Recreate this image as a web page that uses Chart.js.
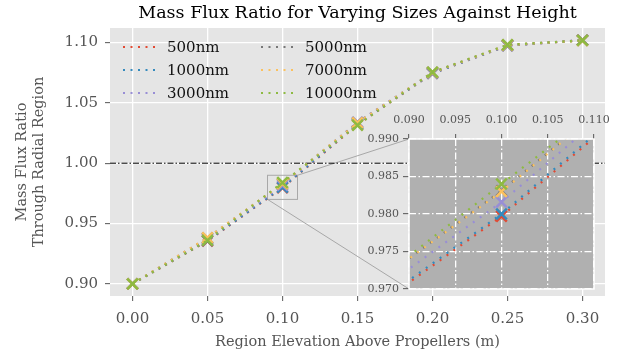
<!DOCTYPE html>
<html>
<head>
<meta charset="utf-8">
<script src="https://cdn.jsdelivr.net/npm/chart.js@4.4.1/dist/chart.umd.min.js"></script>
<style>
  html, body { margin: 0; padding: 0; background: #fff; }
  #wrap { position: relative; width: 622px; height: 359px; overflow: hidden; }
  #main { position: absolute; left: 0; top: 0; }
  #inset { position: absolute; left: 360px; top: 100px; }
</style>
</head>
<body>
<div id="wrap">
  <canvas id="main" width="622" height="359"></canvas>
  <canvas id="inset" width="262" height="212"></canvas>
</div>
<script>
var FONT = "'DejaVu Serif', 'Liberation Serif', serif";
var INSET_LEFT = 360, INSET_TOP = 100;

// data
var heights = [0, 0.05, 0.10, 0.15, 0.20, 0.25, 0.30];
var sizeLabels = ['500nm', '1000nm', '3000nm', '5000nm', '7000nm', '10000nm'];
var flux500   = [0.900, 0.9355, 0.9797, 1.0320, 1.0745, 1.0975, 1.1020];
var flux1000  = [0.900, 0.9358, 0.9800, 1.0325, 1.0745, 1.0975, 1.1020];
var flux3000  = [0.900, 0.9370, 0.9816, 1.0340, 1.0750, 1.0978, 1.1020];
var flux5000  = [0.900, 0.9380, 0.9831, 1.0335, 1.0752, 1.0980, 1.1018];
var flux7000  = [0.900, 0.9382, 0.9830, 1.0335, 1.0752, 1.0980, 1.1017];
var flux10000 = [0.900, 0.9360, 0.9840, 1.0315, 1.0755, 1.0982, 1.1018];
var seriesValues = [flux500, flux1000, flux3000, flux5000, flux7000, flux10000];
var colors = ['#E24A33', '#348ABD', '#988ED5', '#777777', '#FBC15E', '#8EBA42'];

var mainXTicks = [0.00, 0.05, 0.10, 0.15, 0.20, 0.25, 0.30];
var mainYTicks = [0.90, 0.95, 1.00, 1.05, 1.10];
var mainXRange = [-0.015, 0.315];
var mainYRange = [0.8899, 1.1121];
var insetXTicks = [0.090, 0.095, 0.100, 0.105, 0.110];
var insetYTicks = [0.970, 0.975, 0.980, 0.985, 0.990];
var refLevel = 1.0;

function makeSets(dash) {
  return seriesValues.map(function(vals, i) {
    return {
      label: sizeLabels[i],
      data: heights.map(function(h, j) { return { x: h, y: vals[j] }; }),
      borderColor: colors[i], backgroundColor: colors[i],
      borderWidth: 2.2, borderDash: dash, tension: 0, fill: false,
      pointStyle: 'crossRot', pointRadius: 7.5, pointHoverRadius: 7.5, pointBorderWidth: 2.5,
      order: seriesValues.length - i
    };
  });
}

function setTicks(list) {
  return function(scale) { scale.ticks = list.map(function(v) { return { value: v }; }); };
}

var bgPlugin = {
  id: 'bg',
  beforeDraw: function(chart, args, opts) {
    var a = chart.chartArea, ctx = chart.ctx;
    ctx.save();
    ctx.fillStyle = opts.color;
    ctx.fillRect(a.left, a.top, a.right - a.left, a.bottom - a.top);
    ctx.restore();
  }
};

// inset first so the main chart can read its box for the connectors
var insetChart = new Chart(document.getElementById('inset'), {
  type: 'line',
  data: { datasets: makeSets([2, 6.5]) },
  options: {
    responsive: false, animation: false, devicePixelRatio: 1, events: [],
    layout: { padding: { left: 0, top: 0, right: 28, bottom: 23 } },
    plugins: {
      legend: { display: false }, tooltip: { enabled: false }, title: { display: false },
      bg: { color: '#B0B0B0' },
      frame: { color: '#ffffff' }
    },
    scales: {
      x: {
        type: 'linear', position: 'top', min: insetXTicks[0], max: insetXTicks[4],
        afterBuildTicks: setTicks(insetXTicks),
        afterFit: function(s) { s.height = 39; },
        ticks: { callback: function(v) { return v.toFixed(3); }, color: '#555', font: { family: FONT, size: 11 }, padding: 7, maxRotation: 0, autoSkip: false },
        grid: { color: '#ffffff', lineWidth: 1.3, tickColor: '#555', tickLength: 5, tickWidth: 1 },
        border: { display: false, dash: [7, 2.5, 1.5, 2.5] }
      },
      y: {
        type: 'linear', min: insetYTicks[0], max: insetYTicks[4],
        afterBuildTicks: setTicks(insetYTicks),
        afterFit: function(s) { s.width = 49; },
        ticks: { callback: function(v) { return v.toFixed(3); }, color: '#555', font: { family: FONT, size: 11 }, padding: 4, autoSkip: false },
        grid: { color: '#ffffff', lineWidth: 1.3, tickColor: '#555', tickLength: 6, tickWidth: 1 },
        border: { display: false, dash: [7, 2.5, 1.5, 2.5] }
      }
    }
  },
  plugins: [bgPlugin, {
    id: 'frame',
    afterDraw: function(chart, args, opts) {
      var a = chart.chartArea, ctx = chart.ctx;
      ctx.save();
      ctx.strokeStyle = opts.color; ctx.lineWidth = 1.5;
      ctx.strokeRect(a.left, a.top, a.right - a.left, a.bottom - a.top);
      ctx.restore();
    }
  }]
});

var mainSets = makeSets([2, 5.5]);
mainSets.push({
  label: 'ref', data: [{ x: mainXRange[0], y: refLevel }, { x: mainXRange[1], y: refLevel }],
  borderColor: '#000', borderWidth: 1, borderDash: [6, 2, 1.5, 2], pointRadius: 0, order: 20
});

var overlayPlugin = {
  id: 'overlay',
  beforeDatasetsDraw: function(chart) {
    var ctx = chart.ctx, xs = chart.scales.x, ys = chart.scales.y;
    var x0 = xs.getPixelForValue(insetXTicks[0]), x1 = xs.getPixelForValue(insetXTicks[4]);
    var y0 = ys.getPixelForValue(insetYTicks[0]), y1 = ys.getPixelForValue(insetYTicks[4]);
    var ia = insetChart.chartArea;
    ctx.save();
    ctx.strokeStyle = '#a8a8a8'; ctx.lineWidth = 1;
    ctx.strokeRect(x0, y1, x1 - x0, y0 - y1);
    ctx.beginPath();
    ctx.moveTo(x1, y1); ctx.lineTo(INSET_LEFT + ia.left, INSET_TOP + ia.top);
    ctx.moveTo(x0, y0); ctx.lineTo(INSET_LEFT + ia.left, INSET_TOP + ia.bottom);
    ctx.stroke();
    ctx.restore();
  },
  afterDatasetsDraw: function(chart) {
    var ctx = chart.ctx, a = chart.chartArea;
    ctx.save();
    // legend, two columns of three
    var cols = [a.left + 13, a.left + 151], rows = [a.top + 19, a.top + 42, a.top + 65];
    ctx.font = '15px ' + FONT; ctx.textBaseline = 'middle'; ctx.textAlign = 'left';
    sizeLabels.forEach(function(lbl, i) {
      var cx = cols[Math.floor(i / 3)], cy = rows[i % 3];
      ctx.strokeStyle = colors[i]; ctx.lineWidth = 2.2; ctx.setLineDash([2, 5.5]);
      ctx.beginPath(); ctx.moveTo(cx, cy); ctx.lineTo(cx + 32, cy); ctx.stroke();
      ctx.setLineDash([]);
      ctx.fillStyle = '#111';
      ctx.fillText(lbl, cx + 44, cy + 1);
    });
    // title
    ctx.font = '17.5px ' + FONT; ctx.textAlign = 'center'; ctx.fillStyle = '#000';
    ctx.fillText('Mass Flux Ratio for Varying Sizes Against Height', (a.left + a.right) / 2, 13);
    ctx.restore();
  }
};

new Chart(document.getElementById('main'), {
  type: 'line',
  data: { datasets: mainSets },
  options: {
    responsive: false, animation: false, devicePixelRatio: 1, events: [],
    layout: { padding: { left: 0, top: 28, right: 17, bottom: 0 } },
    plugins: { legend: { display: false }, tooltip: { enabled: false }, title: { display: false }, bg: { color: '#E5E5E5' } },
    scales: {
      x: {
        type: 'linear', min: mainXRange[0], max: mainXRange[1],
        afterBuildTicks: setTicks(mainXTicks),
        afterFit: function(s) { s.height = 63; },
        ticks: { callback: function(v) { return v.toFixed(2); }, color: '#555', font: { family: FONT, size: 15 }, padding: 9, maxRotation: 0, autoSkip: false },
        grid: { color: '#ffffff', lineWidth: 1.3, tickColor: '#555', tickLength: 5, tickWidth: 1 },
        border: { display: false },
        title: { display: true, text: 'Region Elevation Above Propellers (m)', color: '#555', font: { family: FONT, size: 14.5 }, padding: { top: 0, bottom: 8 } }
      },
      y: {
        type: 'linear', min: mainYRange[0], max: mainYRange[1],
        afterBuildTicks: setTicks(mainYTicks),
        afterFit: function(s) { s.width = 110; },
        ticks: { callback: function(v) { return v.toFixed(2); }, color: '#555', font: { family: FONT, size: 15 }, padding: 7, autoSkip: false },
        grid: { color: '#ffffff', lineWidth: 1.3, tickColor: '#555', tickLength: 5, tickWidth: 1 },
        border: { display: false },
        title: { display: true, text: ['Mass Flux Ratio', 'Through Radial Region'], color: '#555', font: { family: FONT, size: 14.5, lineHeight: 1.18 }, padding: { top: 14, bottom: 0 } }
      }
    }
  },
  plugins: [bgPlugin, overlayPlugin]
});
</script>
</body>
</html>
